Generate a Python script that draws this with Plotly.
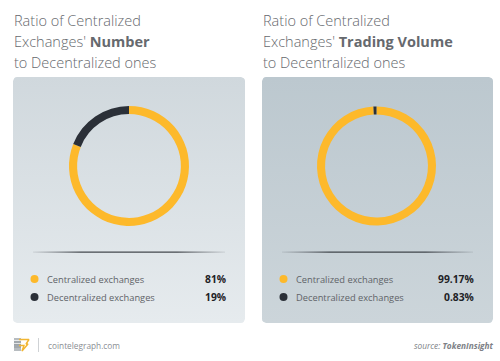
import plotly.graph_objects as go
import math

# ---- data ----
categories = ["Centralized exchanges", "Decentralized exchanges"]
number_values = [81, 19]
volume_values = [99.17, 0.83]
number_labels = ["81%", "19%"]
volume_labels = ["99.17%", "0.83%"]
slice_colors = ["#FDB92B", "#2B3038"]
title_lines_left = ["Ratio of Centralized", "Exchanges' <b>Number</b>", "to Decentralized ones"]
title_lines_right = ["Ratio of Centralized", "Exchanges' <b>Trading Volume</b>", "to Decentralized ones"]

W, H = 500, 361
FONT = "Open Sans"

fig = go.Figure()

def rounded_rect(x0, y0, x1, y1, r=4, n=4):
    pts = []
    corners = [(x1 - r, y0 + r, -90, 0), (x1 - r, y1 - r, 0, 90),
               (x0 + r, y1 - r, 90, 180), (x0 + r, y0 + r, 180, 270)]
    for cx, cy, a0, a1 in corners:
        for i in range(n + 1):
            a = math.radians(a0 + (a1 - a0) * i / n)
            pts.append((cx + r * math.cos(a), cy + r * math.sin(a)))
    pts.append(pts[0])
    return [p[0] for p in pts], [p[1] for p in pts]

# panels
panels = [((13, 77, 245, 323), ["#E6EBEE", "#D0D8DD"]),
          ((262, 77, 493, 323), ["#CCD5DA", "#BCC8CF"])]
for (x0, y0, x1, y1), cols in panels:
    xs, ys = rounded_rect(x0, y0, x1, y1)
    fig.add_trace(go.Scatter(x=xs, y=ys, mode="lines", fill="toself",
                             line=dict(width=0, color="rgba(0,0,0,0)"),
                             fillgradient=dict(type="vertical",
                                               colorscale=[[0, cols[0]], [1, cols[1]]]),
                             hoverinfo="skip", showlegend=False))

# separator lines (gradient)
for x0, x1 in [(33, 225), (282, 473)]:
    xs = [x0, x1, x1, x0, x0]
    ys = [251.5, 251.5, 252.7, 252.7, 251.5]
    fig.add_trace(go.Scatter(x=xs, y=ys, mode="lines", fill="toself",
                             line=dict(width=0, color="rgba(0,0,0,0)"),
                             fillgradient=dict(type="horizontal",
                                               colorscale=[[0, "rgba(60,64,70,0.1)"],
                                                           [0.25, "rgba(40,44,50,0.85)"],
                                                           [0.75, "rgba(40,44,50,0.85)"],
                                                           [1, "rgba(60,64,70,0.1)"]]),
                             hoverinfo="skip", showlegend=False))

# legend dots
legend_rows_y = [279, 297]
for dot_x in [34.5, 283.5]:
    fig.add_trace(go.Scatter(x=[dot_x] * len(categories), y=legend_rows_y, mode="markers",
                             marker=dict(size=8, color=slice_colors),
                             hoverinfo="skip", showlegend=False))

# footer logo (approximate)
fig.add_trace(go.Scatter(x=[17.5, 17.5, 17.5], y=[341.5, 344.5, 347.5], mode="markers",
                         marker=dict(symbol="square", size=[8, 8, 8], color="#9aa0a6",
                                     line=dict(width=1, color="#ffffff")),
                         hoverinfo="skip", showlegend=False))
fig.add_trace(go.Scatter(x=[19, 29, 26, 28, 22, 24, 19], y=[339.5, 339.5, 344, 344, 351, 345.5, 345.5],
                         mode="lines", line=dict(color="#F2B632", width=1.4),
                         hoverinfo="skip", showlegend=False))
fig.add_shape(type="line", xref="x", yref="y", x0=38.5, x1=38.5, y0=338, y1=352,
              line=dict(color="#cfd2d5", width=1))

# donuts
def donut(values, cx, cy, r):
    return go.Pie(values=values, labels=categories, sort=False, direction="clockwise",
                  rotation=0, hole=0.865, textinfo="none", hoverinfo="label+percent",
                  marker=dict(colors=slice_colors, line=dict(width=0)),
                  domain=dict(x=[(cx - r) / W, (cx + r) / W],
                              y=[1 - (cy + r) / H, 1 - (cy - r) / H]),
                  showlegend=False)

fig.add_trace(donut(number_values, 129, 166, 60))
fig.add_trace(donut(volume_values, 376.5, 166, 59.5))

ann = []
# titles
for x, lines in [(13, title_lines_left), (262, title_lines_right)]:
    for i, t in enumerate(lines):
        ann.append(dict(x=x - 1, y=20 + 21 * i, xref="x", yref="y", xanchor="left", yanchor="middle",
                        text=t, showarrow=False, align="left",
                        font=dict(family=FONT, size=14.5, color="#66696e", weight=300)))

# legend text
for text_x, pct_x, labels in [(44.5, 228, number_labels), (293.5, 476, volume_labels)]:
    for cat, lab, yy in zip(categories, labels, legend_rows_y):
        ann.append(dict(x=text_x, y=yy, xref="x", yref="y", xanchor="left", yanchor="middle",
                        text=cat, showarrow=False,
                        font=dict(family=FONT, size=9.3, color="#5f6368")))
        ann.append(dict(x=pct_x, y=yy, xref="x", yref="y", xanchor="right", yanchor="middle",
                        text="<b>" + lab + "</b>", showarrow=False,
                        font=dict(family=FONT, size=10.3, color="#1e2226")))

# footer
ann.append(dict(x=45.5, y=345, xref="x", yref="y", xanchor="left", yanchor="middle",
                text="cointelegraph.com", showarrow=False,
                font=dict(family=FONT, size=8.3, color="#8a8e93")))
ann.append(dict(x=496, y=345, xref="x", yref="y", xanchor="right", yanchor="middle",
                text="<i>source: <b>TokenInsight</b></i>", showarrow=False,
                font=dict(family=FONT, size=8.3, color="#7d8186")))

fig.update_layout(
    width=W, height=H, margin=dict(l=0, r=0, t=0, b=0),
    paper_bgcolor="#ffffff", plot_bgcolor="rgba(0,0,0,0)",
    xaxis=dict(range=[0, W], visible=False, fixedrange=True),
    yaxis=dict(range=[H, 0], visible=False, fixedrange=True),
    annotations=ann, showlegend=False,
)

fig.write_html("out.html", config={"displayModeBar": False},
               post_script="document.body.style.margin='0';document.body.style.overflow='hidden';")
